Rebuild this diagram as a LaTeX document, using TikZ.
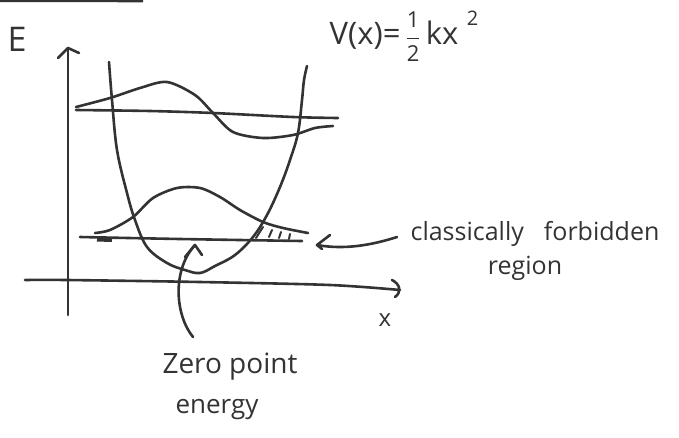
\documentclass[tikz,border=0pt]{standalone}
\usepackage{fontspec}
\setmainfont{Open Sans}
\begin{document}
\begin{tikzpicture}[x=1pt,y=-1pt,
  ink/.style={draw=inkc,line width=2.6pt,line cap=round,line join=round},
  thin ink/.style={draw=inkc,line width=2pt,line cap=round},
  lbl/.style={text=inkc,inner sep=0pt}]
\definecolor{inkc}{HTML}{333333}
\useasboundingbox (0,0) rectangle (679,437);
% top remnant bar
\draw[inkc,line width=3pt] (0,0.5) -- (143,0.8);
% axes
\coordinate (ytop) at (68,48);
\coordinate (ybot) at (68,315);
\coordinate (xl) at (25,280);
\coordinate (xr) at (400,290);
\draw[ink] (ybot) -- (68,200) -- (ytop);
\draw[ink] (58,58) -- (ytop) -- (79,53);
\draw[ink] plot[smooth] coordinates {(xl) (67,280) (200,282) (330,285) (xr)};
\draw[ink] (392,280) .. controls (400,284) and (402,292) .. (395,297);
% parabola
\draw[ink] plot[smooth,tension=0.6] coordinates {(109,62) (112,100) (117,150) (127,193) (135,220) (147,247) (167,263) (185,270) (200,273) (215,266) (235,255) (253,237) (267,215) (280,187) (290,160) (298,133) (302,100) (304,80) (307,66)};
% upper level and wavefunction
\draw[ink] plot[smooth] coordinates {(76,110) (150,111) (213,113) (293,117) (338,118)};
\draw[ink] plot[smooth] coordinates {(76,107) (110,98) (140,88) (167,82) (195,95) (213,113) (233,132) (263,138) (293,135) (315,128) (333,126)};
% ground level and wavefunction
\draw[ink] plot[smooth] coordinates {(80,237) (180,239) (302,241)};
\draw[inkc,line width=4pt] (97,239.5) -- (112,240);
\draw[ink] plot[smooth] coordinates {(95,233) (110,230) (133,217) (153,198) (177,188) (200,188) (220,197) (240,210) (263,222) (283,228) (308,233)};
% hatching (classically forbidden region)
\draw[thin ink] (256,238) -- (263,227);
\draw[thin ink] (269,237) -- (272,230);
\draw[thin ink] (279,238) -- (281,232);
\draw[thin ink] (289,239) -- (290,234);
% labels
\node[lbl,font=\fontsize{34}{36}\selectfont] (E) at (17,39) {E};
\node[lbl,font=\fontsize{31}{34}\selectfont] (V) at (404,36) {V(x)=\,$\displaystyle\frac{\mbox{\fontsize{22}{22}\selectfont 1}}{\mbox{\fontsize{22}{22}\selectfont 2}}$\,kx\raisebox{0.6em}{\fontsize{20}{20}\selectfont\, 2}};
\node[lbl,font=\fontsize{24}{26}\selectfont] (xlab) at (385,320) {x};
\node[lbl,font=\fontsize{25}{28}\selectfont] (cf) at (535,234) {classically\hspace{0.8em}forbidden};
\node[lbl,font=\fontsize{25}{28}\selectfont] (reg) at (525,268) {region};
\node[lbl,font=\fontsize{28}{30}\selectfont] (zp) at (230,367) {Zero point};
\node[lbl,font=\fontsize{26}{30}\selectfont] (en) at (217,410) {energy};
% arrows
\coordinate (cftip) at (317,245);
\coordinate (cfstart) at (397,237);
\draw[ink] (cfstart) .. controls (372,245) and (345,250) .. (cftip);
\draw[ink] (330,235) -- (cftip) -- (322,249);
\coordinate (zptip) at (195,245);
\coordinate (zpstart) at (193,337);
\draw[ink] (zpstart) .. controls (175,315) and (172,270) .. (zptip);
\draw[ink] (185,257) -- (zptip) -- (202,255);
\end{tikzpicture}
\end{document}
